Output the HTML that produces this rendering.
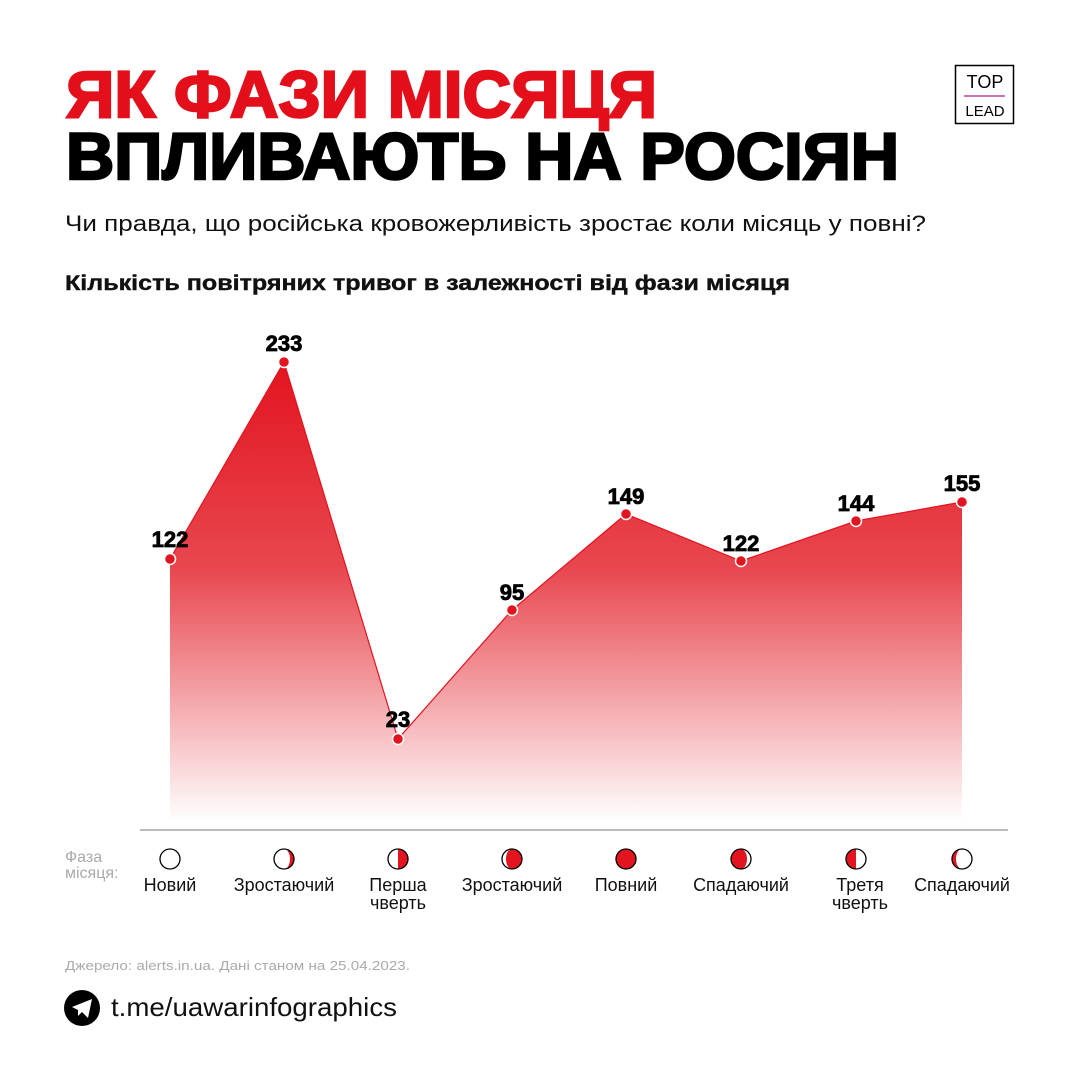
<!DOCTYPE html>
<html><head><meta charset="utf-8"><style>
html,body{margin:0;padding:0;background:#fff}
svg{display:block}
text{font-family:"Liberation Sans",sans-serif}
</style></head><body>
<svg width="1080" height="1080" viewBox="0 0 1080 1080" xmlns="http://www.w3.org/2000/svg">
<defs>
<linearGradient id="g" x1="0" y1="362" x2="0" y2="822" gradientUnits="userSpaceOnUse">
<stop offset="0" stop-color="#e2141f"/>
<stop offset="0.45" stop-color="#e8474f"/>
<stop offset="1" stop-color="#ffffff"/>
</linearGradient>
<clipPath id="c"><circle cx="0" cy="0" r="10"/></clipPath>
</defs>
<text x="66" y="117" font-size="66" font-weight="bold" fill="#e30f1b" stroke="#e30f1b" stroke-width="2.5" textLength="591" lengthAdjust="spacingAndGlyphs">ЯК ФАЗИ МІСЯЦЯ</text>
<text x="66" y="179" font-size="66" font-weight="bold" fill="#000" stroke="#000" stroke-width="2.5" textLength="833" lengthAdjust="spacingAndGlyphs">ВПЛИВАЮТЬ НА РОСІЯН</text>
<rect x="955.5" y="65.5" width="58" height="58" fill="none" stroke="#000" stroke-width="1.5"/>
<text x="985" y="88" font-size="18" text-anchor="middle" fill="#000">TOP</text>
<line x1="964" y1="96" x2="1005" y2="96" stroke="#c040b0" stroke-width="1.5"/>
<text x="985" y="116" font-size="15" text-anchor="middle" fill="#000">LEAD</text>
<text x="65" y="231" font-size="22" fill="#111" textLength="861" lengthAdjust="spacingAndGlyphs">Чи правда, що російська кровожерливість зростає коли місяць у повні?</text>
<text x="65" y="290" font-size="21" font-weight="bold" fill="#111" stroke="#111" stroke-width="0.4" textLength="725" lengthAdjust="spacingAndGlyphs">Кількість повітряних тривог в залежності від фази місяця</text>
<polygon points="170,559 284,362 398,739 512,610 626,514 741,561 856,521 962,502 962,822 170,822" fill="url(#g)"/>
<polyline points="170,559 284,362 398,739 512,610 626,514 741,561 856,521 962,502" fill="none" stroke="#e2141f" stroke-width="1.2"/>
<g fill="#e2141f" stroke="#fff" stroke-width="1.5">
<circle cx="170" cy="559" r="5.5"/><circle cx="284" cy="362" r="5.5"/><circle cx="398" cy="739" r="5.5"/><circle cx="512" cy="610" r="5.5"/><circle cx="626" cy="514" r="5.5"/><circle cx="741" cy="561" r="5.5"/><circle cx="856" cy="521" r="5.5"/><circle cx="962" cy="502" r="5.5"/>
</g>
<g font-size="22" font-weight="bold" text-anchor="middle" fill="#000" stroke="#000" stroke-width="0.8">
<text x="170" y="547">122</text><text x="284" y="351">233</text><text x="398" y="727">23</text><text x="512" y="600">95</text><text x="626" y="504">149</text><text x="741" y="551">122</text><text x="856" y="511">144</text><text x="962" y="491">155</text>
</g>
<line x1="140" y1="830" x2="1008" y2="830" stroke="#bbb" stroke-width="2"/>
<text x="65" y="862" font-size="16" fill="#aaa">Фаза</text>
<text x="65" y="878" font-size="16" fill="#aaa">місяця:</text>
<g transform="translate(170,859)"><circle r="10" fill="#fff" stroke="#000" stroke-width="1.3"/></g>
<g transform="translate(284,859)"><g clip-path="url(#c)"><rect x="0" y="-11" width="11" height="22" fill="#e2141f"/><ellipse rx="6" ry="10" fill="#fff"/></g><circle r="10" fill="none" stroke="#000" stroke-width="1.3"/></g>
<g transform="translate(398,859)"><g clip-path="url(#c)"><rect x="0" y="-11" width="11" height="22" fill="#e2141f"/></g><circle r="10" fill="none" stroke="#000" stroke-width="1.3"/></g>
<g transform="translate(512,859)"><g clip-path="url(#c)"><rect x="-11" y="-11" width="22" height="22" fill="#e2141f"/><rect x="-11" y="-11" width="11" height="22" fill="#fff"/><ellipse rx="6" ry="10" fill="#e2141f"/></g><circle r="10" fill="none" stroke="#000" stroke-width="1.3"/></g>
<g transform="translate(626,859)"><circle r="10" fill="#e2141f" stroke="#000" stroke-width="1.3"/></g>
<g transform="translate(741,859)"><g clip-path="url(#c)"><rect x="-11" y="-11" width="22" height="22" fill="#e2141f"/><rect x="0" y="-11" width="11" height="22" fill="#fff"/><ellipse rx="6" ry="10" fill="#e2141f"/></g><circle r="10" fill="none" stroke="#000" stroke-width="1.3"/></g>
<g transform="translate(856,859)"><g clip-path="url(#c)"><rect x="-11" y="-11" width="11" height="22" fill="#e2141f"/></g><circle r="10" fill="none" stroke="#000" stroke-width="1.3"/></g>
<g transform="translate(962,859)"><g clip-path="url(#c)"><rect x="-11" y="-11" width="11" height="22" fill="#e2141f"/><ellipse rx="6" ry="10" fill="#fff"/></g><circle r="10" fill="none" stroke="#000" stroke-width="1.3"/></g>
<g font-size="18" text-anchor="middle" fill="#111">
<text x="170" y="891">Новий</text>
<text x="284" y="891">Зростаючий</text>
<text x="398" y="891">Перша</text><text x="398" y="909">чверть</text>
<text x="512" y="891">Зростаючий</text>
<text x="626" y="891">Повний</text>
<text x="741" y="891">Спадаючий</text>
<text x="860" y="891">Третя</text><text x="860" y="909">чверть</text>
<text x="962" y="891">Спадаючий</text>
</g>
<text x="65" y="970" font-size="13" fill="#aaa" textLength="345" lengthAdjust="spacingAndGlyphs">Джерело: alerts.in.ua. Дані станом на 25.04.2023.</text>
<circle cx="82" cy="1008" r="18" fill="#000"/>
<path d="M72,1007 L92,999 L88,1018 L82,1012 L78,1016 L78,1010 Z" fill="#fff"/>
<text x="111" y="1016" font-size="26" fill="#111" textLength="286" lengthAdjust="spacingAndGlyphs">t.me/uawarinfographics</text>
</svg>
</body></html>
